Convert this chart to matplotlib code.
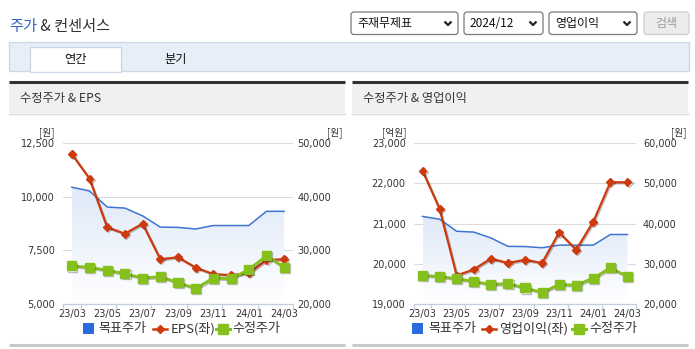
import matplotlib
matplotlib.use("Agg")
import matplotlib.pyplot as plt
import numpy as np
from matplotlib.patches import Rectangle, FancyBboxPatch
from matplotlib.colors import LinearSegmentedColormap
from matplotlib import patheffects as pe

plt.rcParams['font.family'] = ['Noto Sans CJK KR', 'DejaVu Sans']

# data (monthly, 23/03 .. 24/03)
months = ['23/03', '23/04', '23/05', '23/06', '23/07', '23/08', '23/09',
          '23/10', '23/11', '23/12', '24/01', '24/02', '24/03']
target_price = [41800, 41100, 38100, 37900, 36450, 34350, 34300,
                34000, 34650, 34650, 34650, 37300, 37300]
adj_price = [27100, 26850, 26300, 25650, 24850, 25100, 24000,
             22900, 24850, 24700, 26450, 29000, 26850]
eps = [12000, 10850, 8580, 8280, 8750, 7090, 7180,
       6700, 6390, 6350, 6430, 7050, 7090]
op_profit = [22320, 21370, 19710, 19860, 20130, 20020, 20100,
             20020, 20780, 20350, 21050, 22030, 22030]

eps_ticks = [5000, 7500, 10000, 12500]
eps_price_ticks = [20000, 30000, 40000, 50000]
op_ticks = [19000, 20000, 21000, 22000, 23000]
op_price_ticks = [20000, 30000, 40000, 50000, 60000]

BLUE = '#3f74d0'
RED = '#cc3a0e'
GREEN = '#86c01c'
W, H = 695, 349
NUM_FONT = ['Liberation Sans Narrow', 'DejaVu Sans']

fig = plt.figure(figsize=(W / 100, H / 100), dpi=100)
bg = fig.add_axes([0, 0, 1, 1])
bg.set_xlim(0, W)
bg.set_ylim(H, 0)
bg.axis('off')


def frac(x0, y0, x1, y1):
    return [x0 / W, 1 - y1 / H, (x1 - x0) / W, (y1 - y0) / H]


# ---- page header ----
t1 = bg.text(9, 26, '주가', fontsize=11, color='#2f63c6', va='center', ha='left')
bg.annotate(' & 컨센서스', xycoords=t1, xy=(1, 0.5), va='center', ha='left',
            fontsize=11, color='#333333')

for (x0, x1, label) in [(351, 458, '주재무제표'), (464, 543, '2024/12'), (549, 637, '영업이익')]:
    bg.add_patch(FancyBboxPatch((x0, 12), x1 - x0, 22.5,
                                boxstyle='round,pad=0,rounding_size=3',
                                fc='white', ec='#7a7a7a', lw=0.9))
    bg.text(x0 + 6, 23.5, label, fontsize=8.6, color='#111111', va='center', ha='left')
    cx = x1 - 10
    bg.plot([cx - 3.5, cx, cx + 3.5], [21.5, 25, 21.5], color='#222222', lw=1.6,
            solid_capstyle='butt')
bg.add_patch(FancyBboxPatch((644, 12), 45, 22.5, boxstyle='round,pad=0,rounding_size=3',
                            fc='#ececec', ec='#cfcfcf', lw=0.9))
bg.text(666.5, 23.5, '검색', fontsize=8.6, color='#9a9a9a', va='center', ha='center')

# tab bar
bg.add_patch(Rectangle((9, 41.5), 680, 29.5, fc='#e8eef8', ec='#cdd6e6', lw=0.9))
bg.add_patch(Rectangle((29.5, 46.5), 91, 25, fc='white', ec='#cdd6e6', lw=0.9))
bg.text(75, 59, '연간', fontsize=8.8, color='#111111', va='center', ha='center')
bg.text(176, 59, '분기', fontsize=8.8, color='#111111', va='center', ha='center')

# ---- panels ----
for (px0, px1, title) in [(9, 345, '수정주가 & EPS'), (352, 688, '수정주가 & 영업이익')]:
    bg.add_patch(Rectangle((px0, 83), px1 - px0, 30, fc='#f0f0f0', ec='none'))
    bg.plot([px0, px1], [82, 82], color='#333333', lw=2.2, solid_capstyle='butt')
    bg.plot([px0, px1], [113.5, 113.5], color='#dadada', lw=1)
    bg.plot([px0, px1], [344.5, 344.5], color='#c8c8c8', lw=2.2, solid_capstyle='butt')
    bg.text(px0 + 11, 98.5, title, fontsize=8.8, color='#333333', va='center', ha='left')

cmap = LinearSegmentedColormap.from_list('fade', ['#ffffff', '#dfe9f8'])


def draw_chart(box, left_vals, left_ticks, right_ticks, left_pad, right_pad,
               units, labels, legend_x):
    x = np.arange(len(months))
    ax = fig.add_axes(frac(*box))
    axr = ax.twinx()
    axg = ax.twinx()
    axr.set_zorder(1)
    ax.set_zorder(2)
    axg.set_zorder(3)
    for a in (ax, axr, axg):
        a.patch.set_visible(False)
        for s in a.spines.values():
            s.set_visible(False)

    # target price area + line
    poly = axr.fill_between(x, target_price, right_ticks[0], color='none', lw=0)
    grad = np.linspace(0, 1, 256).reshape(-1, 1)
    im = axr.imshow(grad, extent=[x[0], x[-1], right_ticks[0], max(target_price)],
                    origin='lower', aspect='auto', cmap=cmap, zorder=1)
    im.set_clip_path(poly.get_paths()[0], transform=axr.transData)
    axr.plot(x, target_price, color=BLUE, lw=1.1, zorder=2)

    # gridlines
    for v in right_ticks[1:]:
        axr.axhline(v, color='#dcdcdc', lw=0.8, zorder=0)

    shadow = [pe.SimpleLineShadow(offset=(0.8, -0.8), alpha=0.25), pe.Normal()]
    ax.plot(x, left_vals, color=RED, lw=1.6, marker='D', ms=4, mec=RED, mfc=RED,
            path_effects=shadow)
    axg.plot(x, adj_price, color=GREEN, lw=2, marker='s', ms=6.5, mec=GREEN, mfc=GREEN,
             path_effects=shadow)

    ax.set_xlim(-0.5, len(months) - 0.5)
    ax.set_ylim(left_ticks[0], left_ticks[-1])
    axr.set_ylim(right_ticks[0], right_ticks[-1])
    axg.set_ylim(right_ticks[0], right_ticks[-1])

    # y ticks
    ax.set_yticks(left_ticks)
    ax.set_yticklabels([f'{v:,}' for v in left_ticks])
    ax.tick_params(axis='y', length=0, pad=left_pad, labelsize=7, labelcolor='#333333')
    axr.set_yticks(right_ticks)
    axr.set_yticklabels([f'{v:,}' for v in right_ticks])
    axr.tick_params(axis='y', length=0, pad=right_pad, labelsize=7, labelcolor='#333333')
    axg.set_yticks([])
    axg.tick_params(axis='both', length=0, labelleft=False, labelright=False,
                    labelbottom=False)
    axr.tick_params(axis='x', labelbottom=False, length=0)
    for lab in ax.get_yticklabels() + axr.get_yticklabels():
        lab.set_family(NUM_FONT)

    # x axis (shared) on the base axes
    ax.spines['bottom'].set_visible(True)
    ax.spines['bottom'].set_color('#c4cde0')
    ax.spines['bottom'].set_linewidth(0.9)
    ax.set_xticks(x[::2])
    ax.set_xticklabels(months[::2])
    ax.set_xticks(np.r_[-0.5, np.arange(0.5, len(months), 2)], minor=True)
    ax.tick_params(axis='x', which='major', length=0, pad=3.5, labelsize=7,
                   labelcolor='#333333')
    ax.tick_params(axis='x', which='minor', length=4.5, width=0.9, color='#c4cde0')
    for lab in ax.get_xticklabels():
        lab.set_family(NUM_FONT)

    # unit labels
    bg.text(units[0][0], 133, units[0][1], fontsize=7, color='#333333', ha='center', va='center')
    bg.text(units[1][0], 133, units[1][1], fontsize=7, color='#333333', ha='center', va='center')

    # legend
    lx = legend_x
    ly = 328.5
    fs = 9.4
    bg.add_patch(Rectangle((lx[0], ly - 5.5), 11, 11, fc='#2b6be0', ec='none'))
    bg.text(lx[0] + 16, ly, labels[0], fontsize=fs, color='#333333', va='center', ha='left')
    bg.plot([lx[1] - 7, lx[1] + 7], [ly, ly], color=RED, lw=1.8)
    bg.plot([lx[1]], [ly], marker='D', ms=4, color=RED)
    bg.text(lx[1] + 11, ly, labels[1], fontsize=fs, color='#333333', va='center', ha='left')
    bg.plot([lx[2] - 7, lx[2] + 7], [ly, ly], color=GREEN, lw=2.2)
    bg.plot([lx[2]], [ly], marker='s', ms=6.5, color=GREEN)
    bg.text(lx[2] + 10, ly, labels[2], fontsize=fs, color='#333333', va='center', ha='left')


draw_chart((63, 143.3, 293, 304), eps, eps_ticks, eps_price_ticks, 6, 3,
           [(46.5, '[원]'), (335, '[원]')], ['목표주가', 'EPS(좌)', '수정주가'],
           [82.5, 159.5, 222.5])
draw_chart((414, 143.3, 636, 304), op_profit, op_ticks, op_price_ticks, 6, 5,
           [(394, '[억원]'), (678.5, '[원]')], ['목표주가', '영업이익(좌)', '수정주가'],
           [412, 488.5, 579])

fig.savefig('out.png', dpi=100, facecolor='white')
